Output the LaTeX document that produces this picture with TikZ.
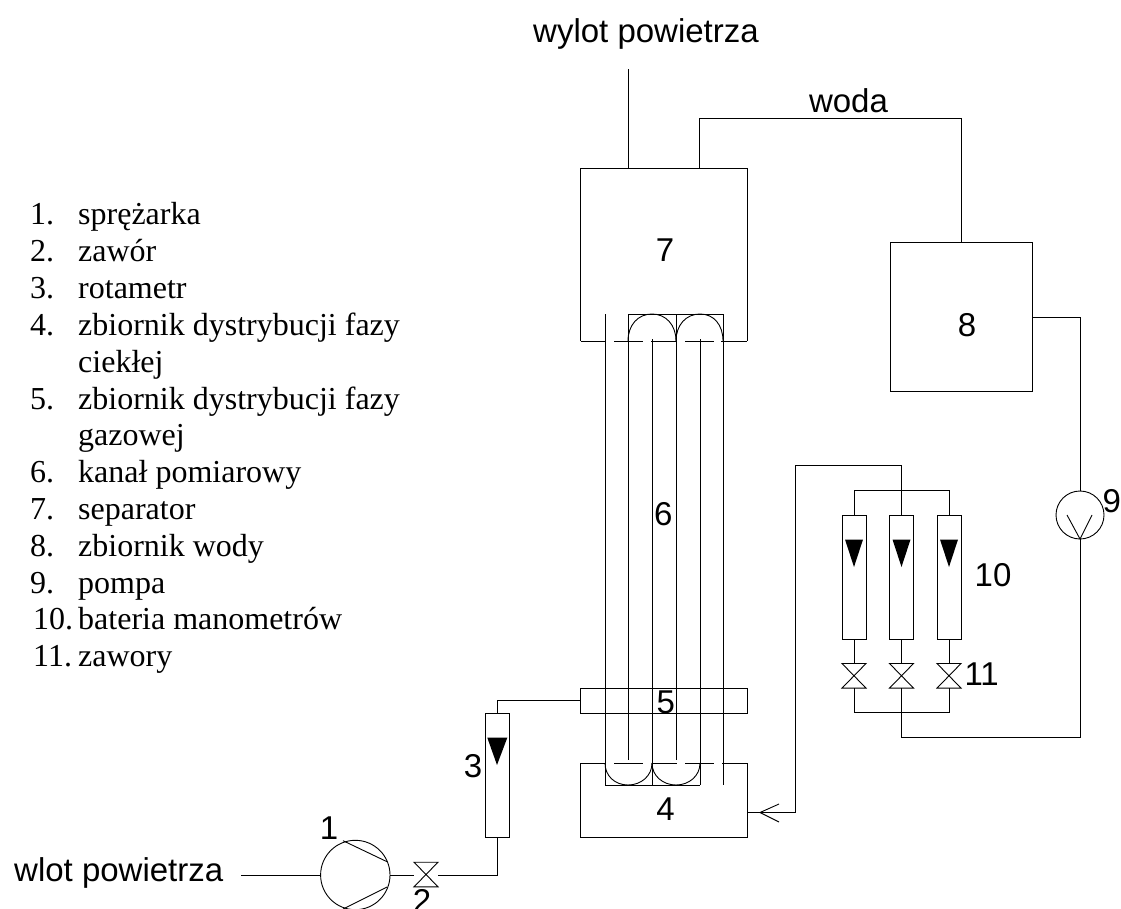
\documentclass[tikz,border=0pt]{standalone}
\usepackage{fontspec}
\setmainfont{Liberation Serif}
\setsansfont{Liberation Sans}
\tikzset{
  x=1pt,y=-1pt,
  pipe/.style={draw=black,line width=0.9pt},
  lab/.style={inner sep=0pt,anchor=base,font=\sffamily\fontsize{33}{33}\selectfont},
  listitem/.style={inner sep=0pt,anchor=base west,font=\rmfamily\fontsize{32}{32}\selectfont},
  marktri/.style={fill=black,draw=none},
}
\newcommand{\myvalve}[2]{% centre x, centre y
  \draw[pipe] (#1-12,#2-12.3) -- (#1+12,#2-12.3) -- (#1-12,#2+12.3) -- (#1+12,#2+12.3) -- cycle;}
\begin{document}
\begin{tikzpicture}
\useasboundingbox (0,0) rectangle (1121,909);
% main vessels
\draw[pipe] (580.6,341) -- (580.6,168) -- (747,168) -- (747,341);
\draw[pipe] (580.6,341) -- (605.6,341) (614,341) -- (642.7,341) (651,341) -- (677,341) (685,341) -- (714,341) (721,341) -- (747,341);
\node[lab] (n7) at (665,261.7) {7};
\draw[pipe] (890,242.3) rectangle (1032.3,391);
\node[lab] (n8) at (967,336) {8};
\draw[pipe] (580.6,688) rectangle (747,713);
\node[lab] (n5) at (665.7,713.3) {5};
\draw[pipe] (605,763) -- (580.6,763) -- (580.6,837) -- (747,837) -- (747,763) -- (722,763);
\draw[pipe] (614,763) -- (642.7,763) (652,763) -- (677,763) (685,763) -- (714,763);
\node[lab] (n4) at (665.5,820) {4};
% tubes
\draw[pipe] (605,314) -- (605,785);
\draw[pipe] (628,341) -- (628,760);
\draw[pipe] (652,339) -- (652,785);
\draw[pipe] (676,341) -- (676,760);
\draw[pipe] (700,339) -- (700,785);
\draw[pipe] (723,341) -- (723,785);
\node[lab] (n6) at (663.3,525) {6};
% top return bends
\draw[pipe] (628,341) -- (628,314) -- (723,314) -- (723,341) (676,314) -- (676,341);
\draw[pipe] (628,341) .. controls (628,325) and (638,314) .. (652,314) .. controls (666,314) and (676,325) .. (676,341);
\draw[pipe] (676,341) .. controls (676,325) and (686,314) .. (700,314) .. controls (714,314) and (723,325) .. (723,341);
% bottom return bends
\draw[pipe] (605,763) -- (605,785) -- (700,785) (652,763) -- (652,785) (700,763) -- (700,785);
\draw[pipe] (605,763) .. controls (605,776) and (615,785) .. (628,785) .. controls (641,785) and (652,776) .. (652,763);
\draw[pipe] (652,763) .. controls (652,776) and (663,785) .. (676,785) .. controls (689,785) and (700,776) .. (700,763);
% air outlet and water
\coordinate (airout) at (628,69);
\draw[pipe] (628,168) -- (airout);
\node[lab] (tout) at (646,43) {wylot powietrza};
\draw[pipe] (699,168) -- (699,118) -- (961,118) -- (961,242.3);
\node[lab] (twoda) at (848.5,112.7) {woda};
% air inlet
\node[lab,anchor=base west] (tin) at (14,881.7) {wlot powietrza};
\draw[pipe] (355.3,875) circle (34.7);
\draw[pipe] (241,875) -- (320.6,875);
\draw[pipe] (343,840.7) -- (387,861.7) (387,887) -- (343,909);
\node[lab] (n1) at (329,839) {1};
\draw[pipe] (390,875) -- (414,875);
\myvalve{426}{874.5}
\node[lab] (n2) at (422,912) {2};
\draw[pipe] (438,875) -- (497,875) -- (497,837.3);
% rotameter 3
\draw[pipe] (485.3,713) rectangle (509.3,837.3);
\draw[marktri] (487.3,737.7) -- (507.3,737.7) -- (497,765) -- cycle;
\draw[pipe] (497,713) -- (497,700.7) -- (580.6,700.7);
\node[lab] (n3) at (473,777) {3};
% manometers
\foreach \cx in {854,901.5,949}{
  \draw[pipe] (\cx-12,515) rectangle (\cx+12,639);
  \draw[marktri] (\cx-9,539.5) -- (\cx+9,539.5) -- (\cx,567) -- cycle;
  \draw[pipe] (\cx,639) -- (\cx,663.3);
  \myvalve{\cx}{675.8}
}
\draw[pipe] (854,515) -- (854,490.7) -- (949,490.7) -- (949,515);
\draw[pipe] (901.5,515) -- (901.5,465.3) -- (795,465.3) -- (795,812.5) -- (747,812.5);
\draw[pipe] (779,804) -- (760,812.5) -- (779,822);
\draw[pipe] (854,688) -- (854,712.7) -- (949,712.7) -- (949,688);
\draw[pipe] (901.5,688) -- (901.5,737.7) -- (1080,737.7) -- (1080,539);
\node[lab] (n10) at (993,586.7) {10};
\node[lab] (n11) at (981.7,685) {11};
% pump 9
\draw[pipe] (1080,515) circle (24);
\draw[pipe] (1067,515) -- (1080,539) -- (1092,515);
\draw[pipe] (1080,491) -- (1080,317) -- (1032.3,317);
\node[lab] (n9) at (1111.7,512) {9};
% list
\foreach \yy/\nx/\num/\txt in {
 225/30/1./sprężarka, 261.8/30/2./zawór, 298.6/30/3./rotametr, 335.4/30/4./zbiornik dystrybucji fazy,
 372.2/30//ciekłej, 409/30/5./zbiornik dystrybucji fazy, 445.8/30//gazowej, 482.6/30/6./kanał pomiarowy,
 519.4/30/7./separator, 556.2/30/8./zbiornik wody, 593/30/9./pompa, 629.8/33/10./bateria manometrów, 666.6/33/11./zawory}{
  \node[listitem] at (\nx,\yy) {\num};
  \node[listitem] at (78,\yy) {\txt};
}
\end{tikzpicture}
\end{document}
